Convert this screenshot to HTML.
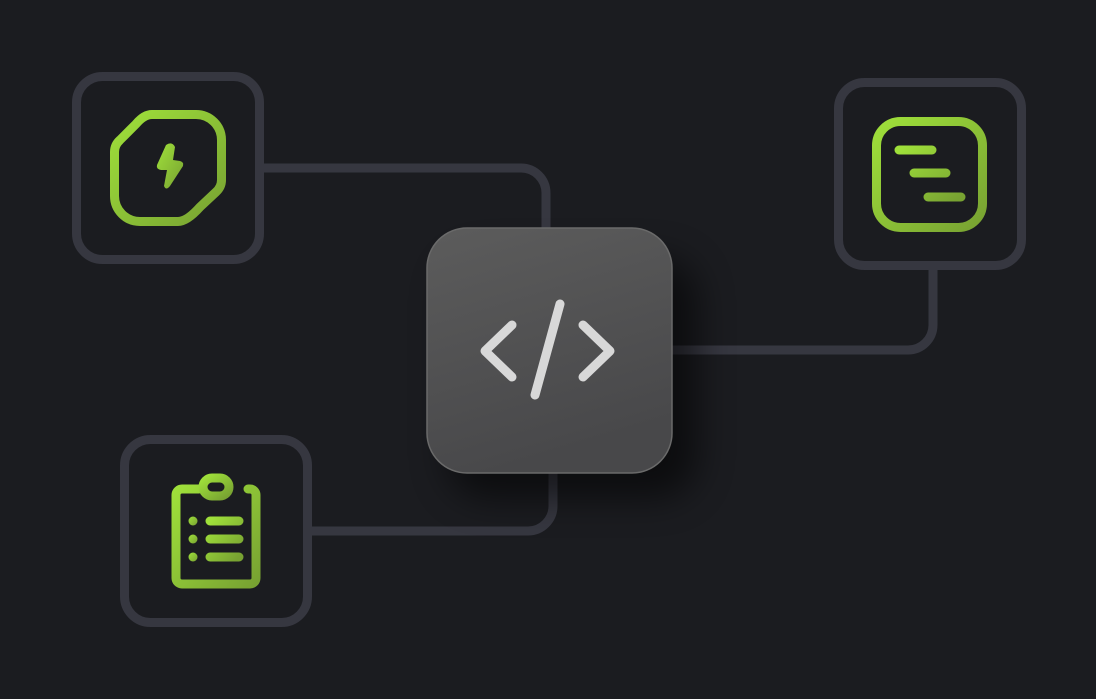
<!DOCTYPE html>
<html><head><meta charset="utf-8"><style>
html,body{margin:0;padding:0;background:#1b1c20;width:1096px;height:699px;overflow:hidden}
</style></head><body>
<svg width="1096" height="699" viewBox="0 0 1096 699" xmlns="http://www.w3.org/2000/svg">
<defs>
<linearGradient id="g" x1="0" y1="0" x2="1" y2="1">
<stop offset="0" stop-color="#9fe03a"/><stop offset="1" stop-color="#78a232"/>
</linearGradient>
<linearGradient id="cb" x1="0" y1="0" x2="0.3" y2="1">
<stop offset="0" stop-color="#5c5c5c"/><stop offset="1" stop-color="#48484a"/>
</linearGradient>
<filter id="sh" x="-40%" y="-40%" width="190%" height="190%">
<feGaussianBlur stdDeviation="18"/>
</filter>
</defs>
<rect width="1096" height="699" fill="#1b1c20"/>
<g fill="none" stroke="#363740" stroke-width="9">
<path d="M264 168 H521 A25 25 0 0 1 546 193 V232"/>
<path d="M668 350 H908 A25 25 0 0 0 933 325 V266"/>
<path d="M310 531 H528 A25 25 0 0 0 553 506 V468"/>
<rect x="76.5" y="76.5" width="183" height="183" rx="26"/>
<rect x="838.5" y="82.5" width="183" height="183" rx="26"/>
<rect x="124.5" y="439.5" width="183" height="183" rx="26"/>
</g>
<rect x="447" y="258" width="250" height="240" rx="40" fill="#000" opacity="0.55" filter="url(#sh)"/>
<rect x="427" y="228" width="245" height="245" rx="40" fill="url(#cb)" stroke="#6a6a6a" stroke-width="1.5"/>
<g fill="none" stroke="#d8d8d8" stroke-width="9" stroke-linecap="round" stroke-linejoin="round">
<path d="M512 325 L485 351 L512 377"/>
<path d="M583 325 L610 351 L583 377"/>
<path d="M560 304 L535 395"/>
</g>
<g fill="none" stroke="url(#g)" stroke-width="9" stroke-linecap="round" stroke-linejoin="round">
<path d="M152 114.5 H196 A25.5 25.5 0 0 1 221.5 140 V180 Q221.5 187 216 192 L200 207 Q187 221.5 178 221.5 H140 A25.5 25.5 0 0 1 114.5 196 V152 Q114.5 145 120 140 L136 124 Q144 114.5 152 114.5 Z"/>
<rect x="876.5" y="121.5" width="106" height="106" rx="24"/>
<path d="M899 150 H932 M914 173 H946 M928 197 H961"/>
<path d="M199 489 H182 A6 6 0 0 0 176 495 V578 A6 6 0 0 0 182 584 H250 A6 6 0 0 0 256 578 V495 A6 6 0 0 0 250 489 H248"/>
<rect x="203" y="478" width="26" height="18" rx="9"/>
<path d="M210 521 H239 M210 539 H239 M210 557 H239"/>
</g>
<g fill="url(#g)">
<path d="M166 145 L157 165 Q156 169 161 170 L167 170 L164 186 Q166 191 170 186 L183 166 Q184 162 180 161 L173 160 L175 147 Q172 141 166 145 Z"/>
<circle cx="193" cy="521" r="4.5"/><circle cx="193" cy="539" r="4.5"/><circle cx="193" cy="557" r="4.5"/>
</g>
</svg>
</body></html>
